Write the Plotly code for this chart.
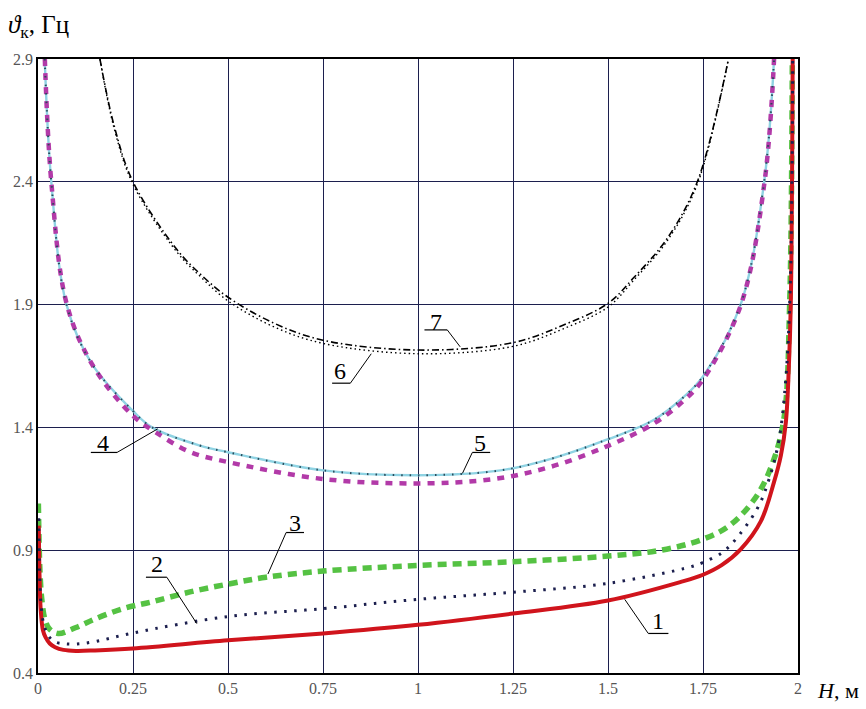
import plotly.graph_objects as go

# Frequency curves: H (m) against frequency (Hz)
h1 = [0.002, 0.004, 0.007, 0.013, 0.02, 0.031, 0.045, 0.067, 0.1, 0.15, 0.25, 0.5, 0.75, 1.0,
      1.25, 1.5, 1.69, 1.75, 1.8, 1.849, 1.902, 1.937, 1.955, 1.968, 1.976, 1.981, 1.986]
v1 = [1.0, 0.80, 0.66, 0.574, 0.545, 0.52, 0.505, 0.494, 0.49, 0.492, 0.50, 0.533, 0.561, 0.596,
      0.642, 0.695, 0.77, 0.80, 0.84, 0.903, 1.017, 1.178, 1.286, 1.42, 1.65, 1.9, 2.9]

h2 = [0.002, 0.004, 0.008, 0.015, 0.028, 0.044, 0.07, 0.1, 0.15, 0.25, 0.5, 0.75, 1.0, 1.25,
      1.5, 1.717, 1.75, 1.8, 1.832, 1.893, 1.924, 1.95, 1.968, 1.98, 1.986]
v2 = [1.03, 0.82, 0.68, 0.60, 0.55, 0.527, 0.519, 0.518, 0.528, 0.563, 0.63, 0.662, 0.70, 0.729,
      0.765, 0.832, 0.85, 0.89, 0.937, 1.07, 1.19, 1.35, 1.6, 2.0, 2.9]

h3 = [0.001, 0.005, 0.01, 0.018, 0.03, 0.053, 0.1, 0.15, 0.224, 0.3, 0.4, 0.5, 0.6, 0.75, 1.0,
      1.25, 1.5, 1.64, 1.75, 1.823, 1.893, 1.937, 1.964, 1.978, 1.985]
v3 = [1.09, 0.82, 0.70, 0.62, 0.58, 0.561, 0.585, 0.62, 0.662, 0.69, 0.73, 0.762, 0.79, 0.815, 0.838,
      0.853, 0.876, 0.90, 0.945, 1.004, 1.125, 1.272, 1.447, 1.9, 2.9]

h4 = [0.018, 0.035, 0.076, 0.145, 0.25, 0.31, 0.4, 0.5, 0.75, 1.0, 1.2, 1.35, 1.5, 1.62, 1.7,
      1.75, 1.85, 1.912, 1.937]
v4 = [2.9, 2.4, 1.9, 1.65, 1.447, 1.38, 1.30, 1.259, 1.19, 1.172, 1.19, 1.24, 1.325, 1.415, 1.51,
      1.595, 1.9, 2.4, 2.9]

h5 = [0.0177, 0.035, 0.075, 0.141, 0.25, 0.30, 0.426, 0.5, 0.75, 1.0, 1.217, 1.35, 1.5, 1.62, 1.7,
      1.75, 1.849, 1.911, 1.937]
v5 = [2.9, 2.4, 1.9, 1.661, 1.467, 1.4, 1.326, 1.299, 1.225, 1.205, 1.225, 1.272, 1.352, 1.43, 1.525,
      1.608, 1.9, 2.4, 2.9]

h6 = [0.163, 0.2, 0.25, 0.365, 0.43, 0.5, 0.62, 0.75, 1.0, 1.25, 1.38, 1.5, 1.568, 1.656, 1.735, 1.817]
v6 = [2.9, 2.62, 2.39, 2.115, 2.01, 1.915, 1.81, 1.742, 1.70, 1.73, 1.80, 1.89, 2.00, 2.16, 2.39, 2.9]

h7 = [0.163, 0.2, 0.25, 0.365, 0.43, 0.5, 0.62, 0.75, 1.0, 1.25, 1.38, 1.5, 1.568, 1.656, 1.735, 1.817]
v7 = [2.9, 2.63, 2.4, 2.125, 2.02, 1.93, 1.825, 1.755, 1.715, 1.745, 1.815, 1.905, 2.01, 2.17, 2.4, 2.9]

x_ticks = [0, 0.25, 0.5, 0.75, 1, 1.25, 1.5, 1.75, 2]
x_tick_text = ["0", "0.25", "0.5", "0.75", "1", "1.25", "1.5", "1.75", "2"]
y_ticks = [0.4, 0.9, 1.4, 1.9, 2.4, 2.9]
y_tick_text = ["0.4", "0.9", "1.4", "1.9", "2.4", "2.9"]

# Curve labels: number, text position, underline span, leader end on the curve
lbl_text = ["1", "2", "3", "4", "5", "6", "7"]
lbl_x = [1.632, 0.313, 0.676, 0.171, 1.164, 0.795, 1.047]
lbl_y = [0.613, 0.843, 1.012, 1.338, 1.338, 1.628, 1.83]
ul_x0 = [1.606, 0.284, 0.653, 0.139, 1.143, 0.774, 1.017]
ul_x1 = [1.659, 0.339, 0.700, 0.208, 1.190, 0.822, 1.077]
ul_y = [0.561, 0.790, 0.972, 1.298, 1.298, 1.580, 1.797]
ld_from = [0, 1, 0, 1, 0, 1, 1]      # 0: leader starts at left end of underline, 1: right end
ld_x = [1.544, 0.418, 0.605, 0.315, 1.117, 0.877, 1.111]
ld_y = [0.70, 0.601, 0.803, 1.394, 1.213, 1.70, 1.728]

SERIF = "Liberation Serif, Times New Roman, DejaVu Serif, serif"
NAVY = "#1c1f4e"

fig = go.Figure()

spl = dict(shape="spline", smoothing=1.0)

# 7: dash-dot black
fig.add_trace(go.Scatter(x=h7, y=v7, mode="lines",
                         line=dict(color="black", width=1.6, dash="7px,3px,1.5px,3px", **spl)))
# 6: thin dotted black
fig.add_trace(go.Scatter(x=h6, y=v6, mode="lines",
                         line=dict(color="black", width=1.4, dash="1.5px,3px", **spl)))
# 5: light cyan line with dark crosses
fig.add_trace(go.Scatter(x=h5, y=v5, mode="lines",
                         line=dict(color="#8fd3e3", width=2.4, **spl)))
# 4: thick magenta dashes
fig.add_trace(go.Scatter(x=h4, y=v4, mode="lines",
                         line=dict(color="#b23aa8", width=4.5, dash="7px,7px", **spl)))
fig.add_trace(go.Scatter(x=h5, y=v5, mode="lines",
                         line=dict(color="#2a4a5a", width=2, dash="1.5px,7px", **spl)))
# 3: thick light-green dashes
fig.add_trace(go.Scatter(x=h3, y=v3, mode="lines",
                         line=dict(color="#55c243", width=5.5, dash="9px,6px", **spl)))
# 1: thick red solid
fig.add_trace(go.Scatter(x=h1, y=v1, mode="lines",
                         line=dict(color="#d0141c", width=4, **spl)))
# 2: dotted dark crosses
fig.add_trace(go.Scatter(x=h2, y=v2, mode="lines",
                         line=dict(color=NAVY, width=3, dash="2.5px,7.5px", **spl)))

shapes = []
annotations = []
for i, t in enumerate(lbl_text):
    shapes.append(dict(type="line", xref="x", yref="y", x0=ul_x0[i], x1=ul_x1[i],
                       y0=ul_y[i], y1=ul_y[i], line=dict(color="black", width=1.2)))
    sx = ul_x1[i] if ld_from[i] else ul_x0[i]
    shapes.append(dict(type="line", xref="x", yref="y", x0=sx, y0=ul_y[i],
                       x1=ld_x[i], y1=ld_y[i], line=dict(color="black", width=1)))
    annotations.append(dict(x=lbl_x[i], y=lbl_y[i], xref="x", yref="y", text=t,
                            showarrow=False, font=dict(family=SERIF, size=24, color="black")))

annotations.append(dict(x=-0.042, y=1.053, xref="paper", yref="paper", xanchor="left", yanchor="middle",
                        text="<i>ϑ</i><sub>к</sub>, Гц", showarrow=False,
                        font=dict(family=SERIF, size=25, color="black")))
annotations.append(dict(x=1.022, y=-0.028, xref="paper", yref="paper", xanchor="left", yanchor="middle",
                        text="<i>H</i>, м", showarrow=False,
                        font=dict(family=SERIF, size=22, color="black")))

axis_common = dict(showgrid=True, gridcolor=NAVY, gridwidth=1.4, zeroline=False,
                   showline=True, linecolor="black", linewidth=1.5, mirror=True,
                   ticks="", tickfont=dict(family=SERIF, size=16, color="#555555"))

fig.update_layout(
    width=866, height=709,
    margin=dict(l=38, r=68, t=59, b=29),
    paper_bgcolor="white", plot_bgcolor="white",
    showlegend=False,
    font=dict(family=SERIF),
    xaxis=dict(range=[0, 2], tickvals=x_ticks, ticktext=x_tick_text, **axis_common),
    yaxis=dict(range=[0.4, 2.9], tickvals=y_ticks, ticktext=y_tick_text, **axis_common),
    shapes=shapes,
    annotations=annotations,
)

fig.write_html("out.html")
